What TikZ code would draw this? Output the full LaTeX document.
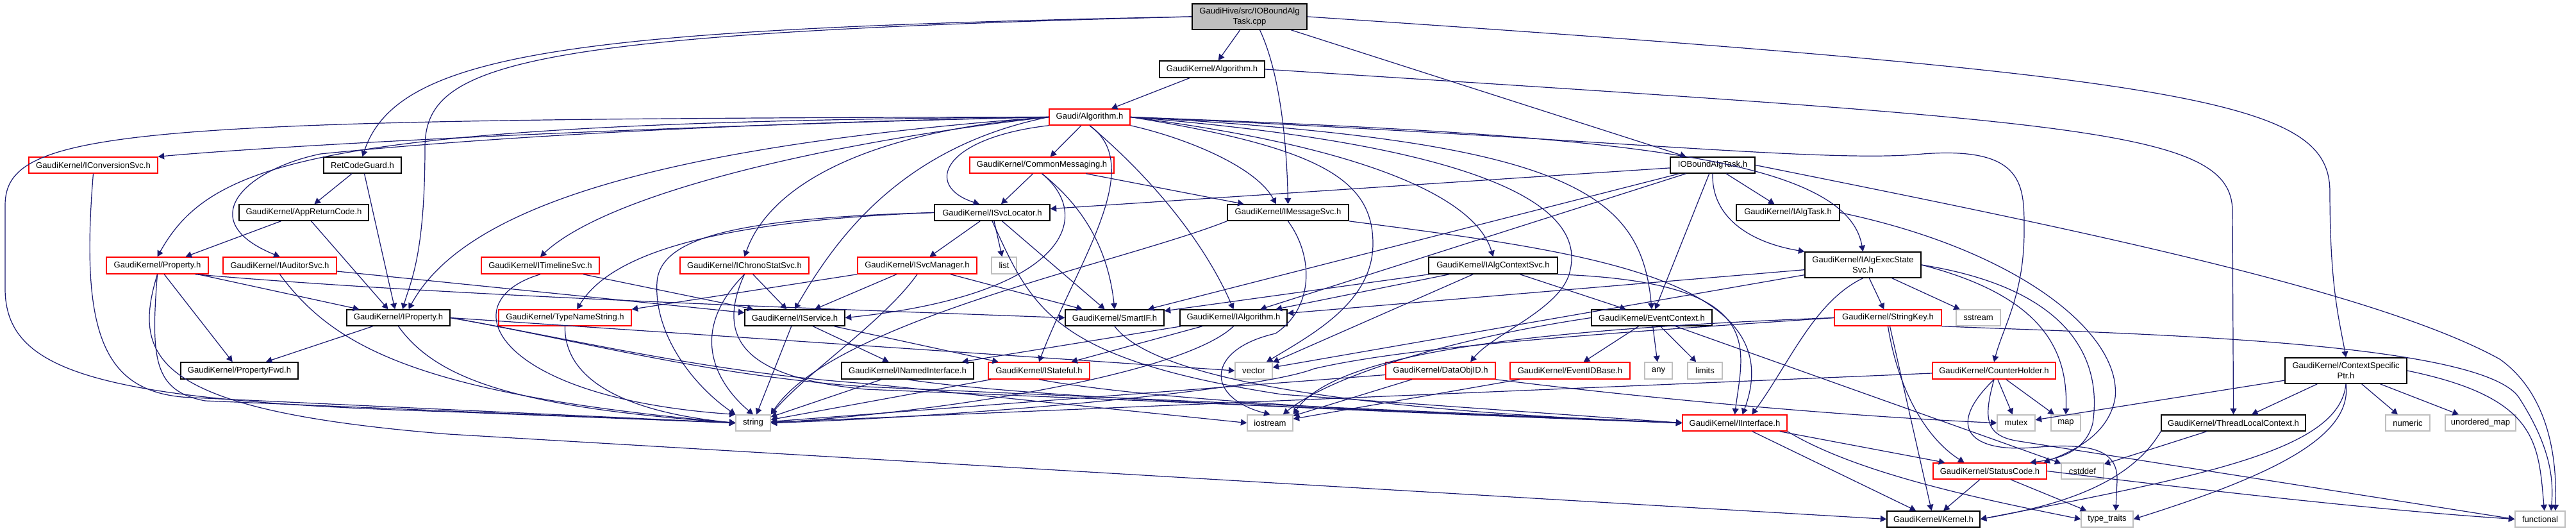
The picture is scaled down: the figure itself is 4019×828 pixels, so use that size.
\documentclass[tikz,border=0pt]{standalone}
\usepackage{fontspec}
\setmainfont{Liberation Sans}
\usetikzlibrary{arrows.meta}
\definecolor{edgecol}{RGB}{25,25,112}
\definecolor{grayb}{RGB}{191,191,191}
\definecolor{redb}{RGB}{255,0,0}
\newcommand{\gnode}[7]{\node[#1, minimum width={(#5-#3)*0.75pt}, minimum height={(#6-#4)*0.75pt}] (#2) at ({(#3+#5)/2},{(#4+#6)/2}) {#7};}
\begin{document}
\begin{tikzpicture}[x=0.75pt,y=-0.75pt,
  nbase/.style={rectangle, inner sep=0pt, align=center, font=\fontsize{9.8pt}{12pt}\selectfont, text=black},
  nb/.style={nbase, draw=black, line width=1.2pt, fill=white},
  nr/.style={nbase, draw=redb, line width=1.1pt, fill=white},
  ng/.style={nbase, draw=grayb, line width=1.1pt, fill=white},
  ntop/.style={nbase, draw=black, fill=grayb, line width=1.2pt},
  edg/.style={draw=edgecol, line width=0.9pt, -{Triangle[length=7pt,width=7.5pt]}}]
\fill[white] (0,0) rectangle (4019,828);
\useasboundingbox (0,0) rectangle (4019,828);
% nodes
\gnode{ntop}{top}{1860}{6}{2039}{46}{GaudiHive/src/IOBoundAlg\\Task.cpp}
\gnode{nb}{gkalg}{1809}{95}{1973}{121}{GaudiKernel/Algorithm.h}
\gnode{nr}{galg}{1637}{170}{1763}{195}{Gaudi/Algorithm.h}
\gnode{nr}{iconv}{45}{245}{246}{270}{GaudiKernel/IConversionSvc.h}
\gnode{nb}{rcg}{505}{245}{626}{270}{RetCodeGuard.h}
\gnode{nr}{cmsg}{1513}{245}{1738}{270}{GaudiKernel/CommonMessaging.h}
\gnode{nb}{iobt}{2606}{245}{2738}{270}{IOBoundAlgTask.h}
\gnode{nb}{apprc}{373}{319}{575}{344}{GaudiKernel/AppReturnCode.h}
\gnode{nb}{isvcloc}{1458}{319}{1638}{344}{GaudiKernel/ISvcLocator.h}
\gnode{nb}{imsg}{1915}{319}{2104}{344}{GaudiKernel/IMessageSvc.h}
\gnode{nb}{ialgtask}{2709}{319}{2870}{344}{GaudiKernel/IAlgTask.h}
\gnode{nr}{prop}{166}{401}{325}{427}{GaudiKernel/Property.h}
\gnode{nr}{iaud}{348}{401}{525}{427}{GaudiKernel/IAuditorSvc.h}
\gnode{nr}{itime}{751}{401}{935}{427}{GaudiKernel/ITimelineSvc.h}
\gnode{nr}{ichrono}{1061}{401}{1262}{427}{GaudiKernel/IChronoStatSvc.h}
\gnode{nr}{isvcmgr}{1338}{401}{1524}{427}{GaudiKernel/ISvcManager.h}
\gnode{ng}{list}{1547}{401}{1586}{427}{list}
\gnode{nb}{ialgctx}{2229}{401}{2430}{427}{GaudiKernel/IAlgContextSvc.h}
\gnode{nb}{iaes}{2816}{393}{2997}{433}{GaudiKernel/IAlgExecState\\Svc.h}
\gnode{nb}{iprop}{541}{483}{702}{508}{GaudiKernel/IProperty.h}
\gnode{nr}{tns}{778}{483}{985}{508}{GaudiKernel/TypeNameString.h}
\gnode{nb}{isvc}{1162}{483}{1318}{508}{GaudiKernel/IService.h}
\gnode{nb}{smartif}{1662}{483}{1816}{508}{GaudiKernel/SmartIF.h}
\gnode{nb}{ialg}{1841}{483}{2008}{508}{GaudiKernel/IAlgorithm.h}
\gnode{nb}{evctx}{2483}{483}{2671}{508}{GaudiKernel/EventContext.h}
\gnode{nr}{strkey}{2862}{483}{3029}{508}{GaudiKernel/StringKey.h}
\gnode{ng}{sstream}{3052}{483}{3121}{508}{sstream}
\gnode{nb}{csp}{3565}{558}{3755}{598}{GaudiKernel/ContextSpecific\\Ptr.h}
\gnode{nb}{pfwd}{282}{565}{465}{591}{GaudiKernel/PropertyFwd.h}
\gnode{nb}{inamed}{1313}{565}{1519}{591}{GaudiKernel/INamedInterface.h}
\gnode{nr}{istate}{1542}{565}{1700}{591}{GaudiKernel/IStateful.h}
\gnode{ng}{vector}{1927}{565}{1985}{591}{vector}
\gnode{nr}{dataobj}{2162}{565}{2333}{591}{GaudiKernel/DataObjID.h}
\gnode{nr}{evidb}{2356}{565}{2543}{591}{GaudiKernel/EventIDBase.h}
\gnode{ng}{any}{2566}{565}{2609}{591}{any}
\gnode{ng}{limits}{2633}{565}{2687}{591}{limits}
\gnode{nr}{cntholder}{3015}{565}{3207}{591}{GaudiKernel/CounterHolder.h}
\gnode{ng}{string}{1148}{647}{1202}{672}{string}
\gnode{ng}{iostream}{1946}{647}{2017}{672}{iostream}
\gnode{nr}{iintf}{2625}{647}{2788}{672}{GaudiKernel/IInterface.h}
\gnode{ng}{mutex}{3116}{647}{3175}{672}{mutex}
\gnode{ng}{map}{3200}{647}{3246}{672}{map}
\gnode{nb}{tlc}{3372}{647}{3597}{672}{GaudiKernel/ThreadLocalContext.h}
\gnode{ng}{numeric}{3722}{647}{3791}{672}{numeric}
\gnode{ng}{umap}{3815}{647}{3925}{672}{unordered\_map}
\gnode{nr}{statuscode}{3016}{722}{3193}{747}{GaudiKernel/StatusCode.h}
\gnode{ng}{cstddef}{3216}{722}{3282}{747}{cstddef}
\gnode{nb}{kernel}{2944}{797}{3089}{822}{GaudiKernel/Kernel.h}
\gnode{ng}{typetraits}{3247}{797}{3328}{822}{type\_traits}
\gnode{ng}{functional}{3924}{797}{4002}{822}{functional}
% top
\draw[edg] (top.west) .. controls (900,45) and (620,80) .. (rcg.north);
\draw[edg] (top.west) .. controls (800,52) and (663,100) .. (663,230) .. controls (663,400) and (640,440) .. ([xshift=5pt]iprop.north);
\draw[edg] (top) -- (gkalg);
\draw[edg] ([xshift=12pt]top.south) .. controls (2000,120) and (2008,240) .. (imsg.north);
\draw[edg] (top) -- (iobt);
\draw[edg] (top.east) .. controls (3450,120) and (3635,160) .. (3635,300) .. controls (3635,450) and (3650,500) .. (csp.north);
% GaudiKernel/Algorithm.h
\draw[edg] (gkalg) -- (galg);
\draw[edg] (gkalg.east) .. controls (3250,190) and (3483,200) .. (3483,330) -- (tlc.north);
% Gaudi/Algorithm.h
\draw[edg] (galg.west) .. controls (900,200) and (400,230) .. (iconv.north east);
\draw[edg] (galg.west) .. controls (500,190) and (330,250) .. (prop.north);
\draw[edg] (galg.west) .. controls (1000,195) and (650,225) .. (500,240) .. controls (380,265) and (300,345) .. (iaud.north);
\draw[edg] (galg.west) .. controls (200,185) and (8,200) .. (8,320) -- (8,450) .. controls (8,580) and (150,625) .. (700,642) -- (string.west);
\draw[edg] (galg.west) .. controls (1000,230) and (720,330) .. ([xshift=12pt]iprop.north);
\draw[edg] (galg.west) .. controls (1300,220) and (950,300) .. (itime.north);
\draw[edg] (galg.west) .. controls (1350,205) and (1200,290) .. (ichrono.north);
\draw[edg] (galg) -- (cmsg);
\draw[edg] (galg.south west) .. controls (1470,215) and (1440,290) .. ([xshift=-15pt]isvcloc.north);
\draw[edg] (galg.west) .. controls (1400,230) and (1300,380) .. (isvc.north);
\draw[edg] (galg.south) .. controls (1790,260) and (1680,410) .. (istate.north);
\draw[edg] (galg.south) .. controls (1800,280) and (1880,380) .. (ialg.north);
\draw[edg] (galg.south east) .. controls (1850,215) and (1960,260) .. ([xshift=-14pt]imsg.north);
\draw[edg] (galg.east) .. controls (2100,225) and (2300,300) .. (ialgctx.north);
\draw[edg] (galg.east) .. controls (2350,230) and (2470,330) .. (2450,420) .. controls (2440,480) and (2330,520) .. ([xshift=35pt]dataobj.north);
\draw[edg] (galg.east) .. controls (2450,220) and (2560,300) .. (evctx.north);
\draw[edg] (galg.east) .. controls (2500,210) and (2880,240) .. (iaes.north);
\draw[edg] (galg.east) .. controls (2500,215) and (2850,255) .. (3000,240) .. controls (3160,228) and (3158,290) .. (3158,360) .. controls (3158,460) and (3125,510) .. (cntholder.north);
\draw[edg] (galg.east) .. controls (2060,230) and (2142,280) .. (2142,380) .. controls (2142,470) and (2050,520) .. ([xshift=15pt]vector.north);
% RetCodeGuard / AppReturnCode
\draw[edg] (rcg) -- (apprc);
\draw[edg] (rcg) -- ([xshift=-4pt]iprop.north);
\draw[edg] (apprc) -- ([xshift=33pt]prop.north);
\draw[edg] (apprc) -- ([xshift=-12pt]iprop.north);
% IConversionSvc
\draw[edg] (iconv.south) .. controls (125,520) and (160,615) .. (300,620) -- (string.west);
% Property.h
\draw[edg] (prop) -- (iprop);
\draw[edg] (prop) -- (pfwd);
\draw[edg] ([xshift=-16pt]prop.south east) .. controls (700,462) and (1300,482) .. (smartif.west);
\draw[edg] (prop.south) .. controls (235,560) and (240,610) .. (320,625) -- (string.west);
\draw[edg] (prop.south) .. controls (205,560) and (240,640) .. (700,677) -- (kernel.west);
% IAuditorSvc, ITimelineSvc, IChronoStatSvc
\draw[edg] (iaud) -- (isvc);
\draw[edg] (iaud.south) .. controls (520,540) and (650,615) .. (string.west);
\draw[edg] (itime) -- (isvc);
\draw[edg] (itime.south) .. controls (700,470) and (770,620) .. (string.north west);
\draw[edg] (ichrono) -- (isvc);
\draw[edg] (ichrono.south) .. controls (1070,520) and (1120,600) .. (string.north);
\draw[edg] (ichrono.south) .. controls (1110,540) and (1180,590) .. (1350,607) -- (iintf.west);
% ISvcManager
\draw[edg] (isvcmgr.south west) -- (tns.north east);
\draw[edg] (isvcmgr) -- (smartif);
\draw[edg] (isvcmgr) -- (isvc);
\draw[edg] (isvcmgr.south) .. controls (1380,500) and (1260,580) .. (string.north east);
% CommonMessaging
\draw[edg] (cmsg) -- (isvcloc);
\draw[edg] (cmsg) -- (imsg);
\draw[edg] (cmsg.south) .. controls (1700,330) and (1730,400) .. (smartif.north);
\draw[edg] (cmsg.south) .. controls (1710,340) and (1660,460) .. (isvc.east);
% ISvcLocator
\draw[edg] (isvcloc) -- (isvcmgr);
\draw[edg] (isvcloc) -- (list);
\draw[edg] (isvcloc) -- (smartif);
\draw[edg] (isvcloc.south) .. controls (1610,480) and (1640,560) .. (2000,615) -- (iintf.west);
\draw[edg] (isvcloc.west) .. controls (1100,345) and (950,400) .. ([xshift=14pt]tns.north);
\draw[edg] (isvcloc.west) .. controls (1150,340) and (1030,370) .. (1025,440) .. controls (1020,520) and (1080,600) .. (string.north west);
% IMessageSvc
\draw[edg] (imsg.south) .. controls (2050,400) and (2050,480) .. (1990,520) .. controls (1880,545) and (1880,620) .. (iostream.north);
\draw[edg] (imsg.south west) .. controls (1750,410) and (1300,500) .. (string.north east);
\draw[edg] (imsg.south east) .. controls (2450,390) and (2800,430) .. ([xshift=9pt]iintf.north);
% IOBoundAlgTask.h
\draw[edg] (iobt) -- (isvcloc);
\draw[edg] (iobt) -- (smartif);
\draw[edg] (iobt) -- (ialg);
\draw[edg] (iobt) -- (evctx);
\draw[edg] (iobt) -- (ialgtask);
\draw[edg] (iobt.south) .. controls (2670,345) and (2740,380) .. (iaes.north west);
\draw[edg] (iobt.east) .. controls (3200,350) and (3700,450) .. (3900,560) .. controls (3970,610) and (3990,700) .. ([xshift=-12pt]functional.north east);
% IAlgTask
\draw[edg] (ialgtask.east) .. controls (3150,390) and (3310,520) .. (3300,620) .. controls (3290,680) and (3230,705) .. ([xshift=-4pt]statuscode.north east);
% IAlgContextSvc
\draw[edg] (ialgctx) -- (smartif);
\draw[edg] (ialgctx) -- (ialg);
\draw[edg] (ialgctx) -- (vector);
\draw[edg] (ialgctx) -- (evctx);
\draw[edg] (ialgctx.south east) .. controls (2760,440) and (2720,540) .. (iintf.north);
% IAlgExecStateSvc
\draw[edg] (iaes) -- (ialg);
\draw[edg] (iaes) -- (vector);
\draw[edg] (iaes.south) .. controls (2830,470) and (2790,570) .. ([xshift=20pt]iintf.north);
\draw[edg] (iaes) -- (strkey);
\draw[edg] (iaes) -- (sstream);
\draw[edg] (iaes.east) .. controls (3230,450) and (3280,560) .. (3265,660) .. controls (3255,700) and (3220,715) .. ([xshift=-20pt]statuscode.north east);
\draw[edg] (iaes.east) .. controls (3180,460) and (3227,540) .. (map.north);
% StringKey
\draw[edg] (strkey) -- (kernel);
\draw[edg] (strkey.south) .. controls (2960,600) and (3000,680) .. ([xshift=-30pt]statuscode.north);
\draw[edg] (strkey.south east) .. controls (3300,520) and (3870,530) .. (3930,620) .. controls (3975,690) and (3985,740) .. ([xshift=-17pt]functional.north east);
\draw[edg] (strkey.west) .. controls (2500,520) and (2200,540) .. (2050,575) .. controls (1960,610) and (1500,650) .. (string.east);
\draw[edg] (strkey.west) .. controls (2350,515) and (2080,555) .. (iostream.north east);
% EventContext
\draw[edg] (evctx) -- (evidb);
\draw[edg] (evctx) -- (any);
\draw[edg] (evctx) -- (limits);
\draw[edg] (evctx) -- (cstddef);
\draw[edg] (evctx.west) .. controls (2250,530) and (2070,590) .. ([xshift=-12pt]iostream.north east);
% IProperty
\draw[edg] (iprop) -- (pfwd);
\draw[edg] (iprop.south) .. controls (680,590) and (800,635) .. (string.west);
\draw[edg] (iprop.east) -- (vector.west);
\draw[edg] (iprop.east) .. controls (900,530) and (1100,580) .. (1350,598) -- (iostream.west);
\draw[edg] (iprop.east) .. controls (900,530) and (1100,585) .. (1350,603) -- (iintf.west);
% TypeNameString, IService, SmartIF, IAlgorithm
\draw[edg] (tns.south) .. controls (880,580) and (950,640) .. (string.west);
\draw[edg] (isvc) -- (inamed);
\draw[edg] (isvc) -- (istate);
\draw[edg] (isvc) -- (string);
\draw[edg] (smartif.south) .. controls (1800,590) and (2100,640) .. (iintf.west);
\draw[edg] (ialg) -- (inamed);
\draw[edg] (ialg) -- (istate);
\draw[edg] (ialg.south) .. controls (1850,580) and (1500,640) .. (string.east);
% INamedInterface, IStateful
\draw[edg] (inamed.south) .. controls (1600,620) and (2100,640) .. (iintf.west);
\draw[edg] (inamed) -- (string);
\draw[edg] (istate.south) .. controls (1800,625) and (2200,645) .. (iintf.west);
\draw[edg] (istate) -- (string);
% DataObjID, EventIDBase
\draw[edg] (dataobj) -- (iostream);
\draw[edg] (dataobj) -- (string);
\draw[edg] (dataobj.south east) .. controls (2600,625) and (2900,650) .. (mutex.west);
\draw[edg] (evidb) -- (iostream);
% CounterHolder
\draw[edg] (cntholder) -- (string);
\draw[edg] (cntholder) -- (mutex);
\draw[edg] (cntholder) -- (map);
\draw[edg] (cntholder.south) .. controls (3095,650) and (3095,680) .. (3150,688) -- (functional.west);
\draw[edg] (cntholder.south) .. controls (3030,670) and (3080,705) .. (3170,698) .. controls (3260,690) and (3305,700) .. (3303,750) -- ([xshift=10pt]typetraits.north);
% IInterface
\draw[edg] (iintf) -- (statuscode);
\draw[edg] (iintf) -- (kernel);
\draw[edg] (iintf.south east) .. controls (2900,740) and (3100,780) .. (typetraits.west);
% StatusCode
\draw[edg] (statuscode) -- (kernel);
\draw[edg] (statuscode) -- (typetraits);
\draw[edg] (statuscode.east) .. controls (3400,760) and (3700,795) .. (functional.west);
% ContextSpecificPtr
\draw[edg] (csp) -- (tlc);
\draw[edg] (csp) -- (numeric);
\draw[edg] (csp) -- (umap);
\draw[edg] (csp.east) .. controls (3960,620) and (3960,690) .. ([xshift=5pt]functional.north);
\draw[edg] (csp.south) .. controls (3650,700) and (3450,740) .. (kernel.east);
\draw[edg] (csp.south) .. controls (3670,680) and (3550,740) .. (typetraits.east);
\draw[edg] (csp) -- (mutex);
% ThreadLocalContext
\draw[edg] (tlc) -- (cstddef);
\draw[edg] (tlc.south west) .. controls (3320,760) and (3200,790) .. (kernel.east);
\end{tikzpicture}
\end{document}
